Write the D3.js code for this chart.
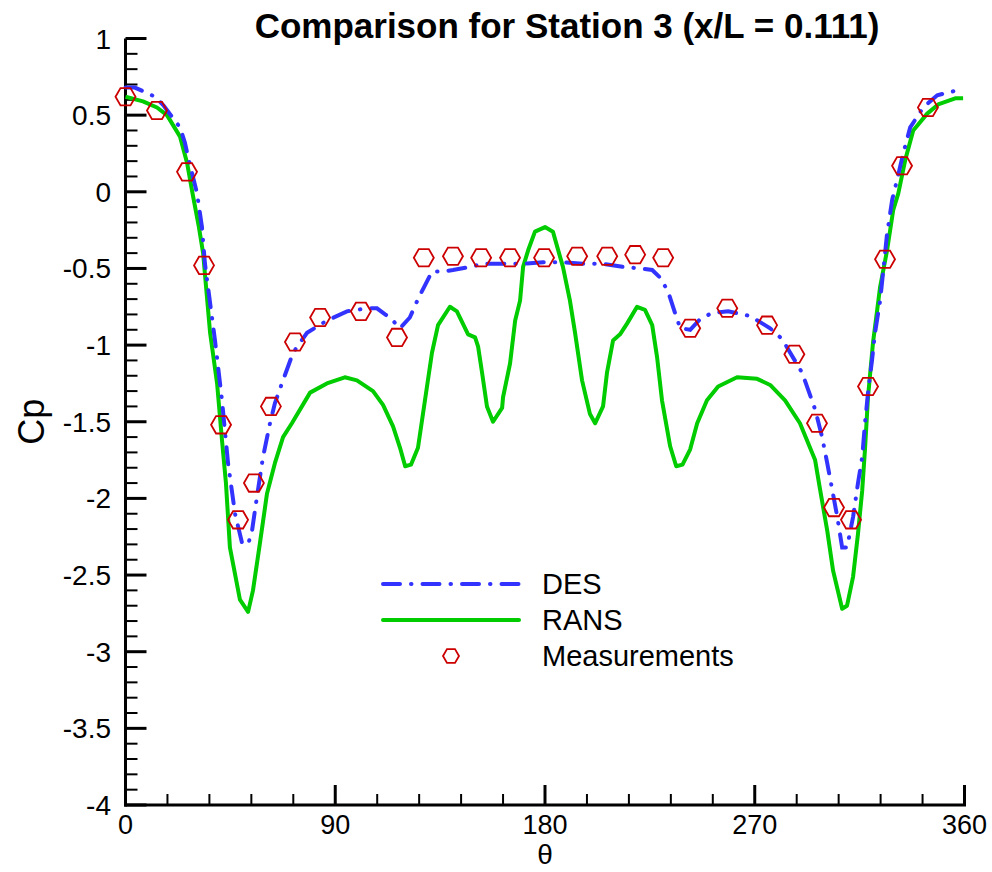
<!DOCTYPE html>
<html>
<head>
<meta charset="utf-8">
<script src="https://cdn.jsdelivr.net/npm/d3@7"></script>
<style>
  body { margin: 0; background: #fff; }
  svg { display: block; font-family: "Liberation Sans", Arial, sans-serif; }
</style>
</head>
<body>
<svg id="chart" width="992" height="872"></svg>
<script>
// Measurements (theta in degrees, Cp)
const measTheta = [0, 13.5, 26.4, 33.7, 41, 48.3, 55.1, 62.4, 72.7, 83.5, 101, 116.5,
  128, 140.5, 152.6, 165, 179.6, 193.8, 206.7, 218.7, 230.7,
  242.3, 258.2, 275.3, 287, 296.7, 304, 311.3, 318.6, 325.9, 333.2, 344.3];
const measCp = [0.62, 0.53, 0.13, -0.48, -1.52, -2.14, -1.9, -1.4, -0.98, -0.82, -0.78, -0.95,
  -0.43, -0.42, -0.43, -0.43, -0.43, -0.42, -0.42, -0.41, -0.43,
  -0.89, -0.76, -0.87, -1.06, -1.51, -2.06, -2.14, -1.27, -0.44, 0.17, 0.55];

// DES curve
const desTheta = [0, 4, 8.4, 12.7, 16.5, 20.4, 23.4, 25.5, 26.8, 30.7, 32.8, 34.1, 38.4, 41.4, 44, 47, 50,
  52.6, 54.3, 56.4, 59, 62, 64.1, 67.1, 71.9, 77.9, 86.4, 95, 103.6, 107.9, 111.4, 113.5, 117.8,
  122, 125.5, 128.5, 131.5, 136.2, 140.5, 147.8, 153.4, 160.7, 170.6, 179.2, 187.7, 196.3, 204.9,
  213.5, 220.8, 226, 229.4, 232.8, 235.8, 238, 242.3, 246.6, 251.7, 258.6, 268, 276.6, 281.7,
  290.3, 292.9, 295.9, 298.9, 301.1, 303.2, 305.4, 307.5, 309.6, 310.5, 312.2, 314.3, 316.1,
  317.3, 318.6, 320.3, 321.6, 323.8, 325.1, 326.8, 329, 331.1, 333.7, 336.7, 342.3, 348.3, 356.4, 358];
const desCp = [0.68, 0.68, 0.65, 0.62, 0.56, 0.48, 0.42, 0.32, 0.23, -0.01, -0.23, -0.47, -0.97, -1.36, -1.77, -2.10, -2.29,
  -2.30, -2.21, -1.99, -1.73, -1.51, -1.38, -1.25, -1.05, -0.92, -0.84, -0.78, -0.76, -0.76, -0.80, -0.82, -0.89,
  -0.82, -0.70, -0.61, -0.52, -0.52, -0.51, -0.49, -0.47, -0.47, -0.47, -0.46, -0.46, -0.47, -0.47,
  -0.49, -0.50, -0.51, -0.56, -0.65, -0.79, -0.89, -0.90, -0.83, -0.79, -0.78, -0.81, -0.89, -0.96,
  -1.18, -1.29, -1.42, -1.60, -1.77, -1.94, -2.12, -2.32, -2.32, -2.25, -2.12, -1.90, -1.73,
  -1.51, -1.31, -1.10, -0.92, -0.71, -0.52, -0.27, -0.05, 0.08, 0.25, 0.42, 0.55, 0.63, 0.66, 0.67];

// RANS curve
const ransTheta = [0, 7.5, 13.5, 17.8, 23.4, 26.4, 29, 31.5, 33.3, 36.3, 39.3, 41.4, 43.1, 44.8, 49.1, 52.6,
  54.7, 57.7, 60.7, 64.1, 67.6, 71.4, 79.2, 86.4, 94.1, 99.3, 106.2, 110.5, 114.8, 117.8, 120,
  122.5, 125.5, 128.5, 131.5, 134.1, 139.2, 142.2, 147, 150, 151.3, 153, 155.1, 157.7, 161.6, 162,
  165, 167.2, 169.3, 170.6, 172.8, 175.7, 180, 183.4, 187.7, 190.7, 192.9, 195.9, 199.3, 201.5,
  204.9, 206.6, 209.2, 212.2, 215.2, 219.5, 222.9, 226, 228.1, 230.2, 233.7, 236.3, 239, 242.3,
  245.3, 249.5, 254.3, 262.4, 271, 276.6, 283, 289.4, 295.9, 298, 301.1, 303.6, 307.5, 309.6,
  312.2, 314.3, 316.1, 317.3, 318.6, 320.7, 323.8, 326.8, 329.4, 331.6, 334.6, 338, 344, 348.7, 356, 359.4];
const ransCp = [0.62, 0.59, 0.55, 0.50, 0.36, 0.19, -0.03, -0.23, -0.40, -0.92, -1.25, -1.62, -1.90, -2.32, -2.66, -2.74,
  -2.60, -2.29, -1.97, -1.77, -1.60, -1.51, -1.31, -1.25, -1.21, -1.23, -1.30, -1.39, -1.53, -1.67, -1.79,
  -1.78, -1.67, -1.36, -1.05, -0.87, -0.75, -0.78, -0.93, -0.95, -1.01, -1.18, -1.40, -1.50, -1.41, -1.34,
  -1.12, -0.84, -0.71, -0.49, -0.38, -0.26, -0.23, -0.26, -0.49, -0.71, -0.92, -1.23, -1.45, -1.51,
  -1.40, -1.18, -0.97, -0.93, -0.86, -0.75, -0.77, -0.87, -1.08, -1.36, -1.66, -1.79, -1.78, -1.68,
  -1.51, -1.36, -1.27, -1.21, -1.22, -1.26, -1.36, -1.51, -1.75, -1.94, -2.21, -2.47, -2.72, -2.70,
  -2.51, -2.23, -1.95, -1.68, -1.34, -0.99, -0.62, -0.38, -0.12, -0.01, 0.21, 0.40, 0.51, 0.57, 0.61, 0.61];

const xTicks = [0, 90, 180, 270, 360];
const yTicks = [1, 0.5, 0, -0.5, -1, -1.5, -2, -2.5, -3, -3.5, -4];

const svg = d3.select('#chart');

const x = d3.scaleLinear().domain([0, 360]).range([125.5, 964.5]);
const y = d3.scaleLinear().domain([-4, 1]).range([805, 38.5]);

const blue = '#3333ff', green = '#00cc00', red = '#cc0000';

// minor ticks
const xMinor = d3.range(0, 361, 18).filter(v => v % 90 !== 0);
const yMinor = d3.range(-40, 11, 1).map(v => v / 10).filter(v => Math.abs(v * 2 - Math.round(v * 2)) > 1e-6);

const axes = svg.append('g').attr('stroke', '#000');
axes.selectAll('.xminor').data(xMinor).enter().append('line')
  .attr('x1', d => x(d)).attr('x2', d => x(d))
  .attr('y1', y(-4)).attr('y2', y(-4) - 11).attr('stroke-width', 2);
axes.selectAll('.xmajor').data(xTicks).enter().append('line')
  .attr('x1', d => x(d)).attr('x2', d => x(d))
  .attr('y1', y(-4)).attr('y2', y(-4) - 20).attr('stroke-width', 3);
axes.selectAll('.yminor').data(yMinor).enter().append('line')
  .attr('x1', x(0)).attr('x2', x(0) + 12)
  .attr('y1', d => y(d)).attr('y2', d => y(d)).attr('stroke-width', 2);
axes.selectAll('.ymajor').data(yTicks).enter().append('line')
  .attr('x1', x(0)).attr('x2', x(0) + 21)
  .attr('y1', d => y(d)).attr('y2', d => y(d)).attr('stroke-width', 3);
// axis lines
axes.append('line').attr('x1', x(0)).attr('x2', x(0)).attr('y1', y(1)).attr('y2', y(-4) + 1.5).attr('stroke-width', 3);
axes.append('line').attr('x1', x(0) - 1.5).attr('x2', x(360) + 1.5).attr('y1', y(-4)).attr('y2', y(-4)).attr('stroke-width', 3);

// tick labels
svg.append('g').selectAll('text').data(yTicks).enter().append('text')
  .attr('x', 111).attr('y', d => y(d) + 10)
  .attr('text-anchor', 'end').attr('font-size', 28)
  .text(d => d);
svg.append('g').selectAll('text').data(xTicks).enter().append('text')
  .attr('x', d => x(d)).attr('y', 834)
  .attr('text-anchor', 'middle').attr('font-size', 27)
  .text(d => d);

// axis titles
svg.append('text').attr('x', x(180)).attr('y', 864)
  .attr('text-anchor', 'middle').attr('font-size', 28).text('θ');
svg.append('text').attr('transform', `translate(44,${y(-1.5)}) rotate(-90)`)
  .attr('text-anchor', 'middle').attr('font-size', 36).text('Cp');

// title
svg.append('text').attr('x', 567).attr('y', 38)
  .attr('text-anchor', 'middle').attr('font-size', 35).attr('font-weight', 'bold')
  .text('Comparison for Station 3 (x/L = 0.111)');

// curves
const line = d3.line().x(d => x(d[0])).y(d => y(d[1]));
svg.append('path').datum(ransTheta.map((t, i) => [t, ransCp[i]]))
  .attr('d', line).attr('fill', 'none').attr('stroke', green)
  .attr('stroke-width', 4).attr('stroke-linejoin', 'round');
svg.append('path').datum(desTheta.map((t, i) => [t, desCp[i]]))
  .attr('d', line).attr('fill', 'none').attr('stroke', blue)
  .attr('stroke-width', 4).attr('stroke-linecap', 'round')
  .attr('stroke-dasharray', '17,11,0.5,11');

// hexagon marker
const hexagon = r => d3.range(6).map(k => {
  const a = k * Math.PI / 3;
  return [r * Math.cos(a), r * Math.sin(a)];
});
const hexPath = r => 'M' + hexagon(r).map(p => p.join(',')).join('L') + 'Z';

svg.append('g').selectAll('path').data(measTheta.map((t, i) => [t, measCp[i]])).enter().append('path')
  .attr('transform', d => `translate(${x(d[0])},${y(d[1])})`)
  .attr('d', hexPath(10)).attr('fill', 'none').attr('stroke', red).attr('stroke-width', 1.8);

// legend
const legend = svg.append('g').attr('font-size', 29);
legend.append('line').attr('x1', 383).attr('x2', 519).attr('y1', 584).attr('y2', 584)
  .attr('stroke', blue).attr('stroke-width', 4).attr('stroke-linecap', 'round')
  .attr('stroke-dasharray', '17,11,0.5,11');
legend.append('text').attr('x', 542).attr('y', 594).text('DES');
legend.append('line').attr('x1', 383).attr('x2', 519).attr('y1', 620).attr('y2', 620)
  .attr('stroke', green).attr('stroke-width', 4).attr('stroke-linecap', 'round');
legend.append('text').attr('x', 542).attr('y', 630).text('RANS');
legend.append('path').attr('transform', 'translate(451,656)')
  .attr('d', hexPath(8)).attr('fill', 'none').attr('stroke', red).attr('stroke-width', 1.8);
legend.append('text').attr('x', 542).attr('y', 666).text('Measurements');
</script>
</body>
</html>
